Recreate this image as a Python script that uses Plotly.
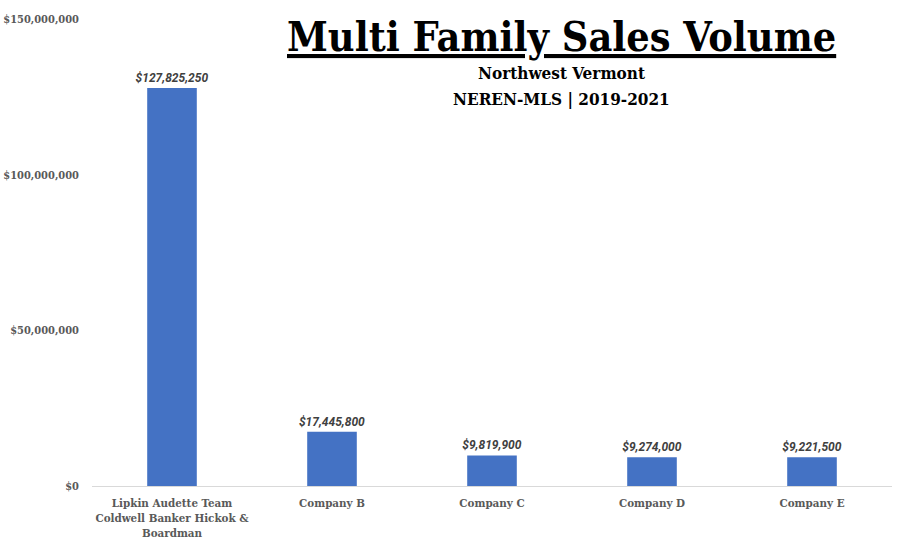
import plotly.graph_objects as go

categories = ["Lipkin Audette Team<br>Coldwell Banker Hickok &<br>Boardman",
              "Company B", "Company C", "Company D", "Company E"]
values = [127825250, 17445800, 9819900, 9274000, 9221500]
tick_vals = [0, 50000000, 100000000, 150000000]
tick_text = ["$0", "$50,000,000", "$100,000,000", "$150,000,000"]

SLAB = "DejaVu Serif Condensed, DejaVu Serif, serif"

fig = go.Figure(go.Bar(
    x=categories, y=values,
    marker=dict(color="#4472C4", line=dict(width=0)),
    width=0.31,
    text=["<b><i>$" + f"{v:,}" + "</i></b>" for v in values],
    textposition="outside",
    constraintext="none",
    textfont=dict(family="Roboto, sans-serif", size=12, color="#404040"),
    cliponaxis=False,
))

fig.update_layout(
    width=902, height=550,
    margin=dict(l=92, r=10, t=19, b=64, autoexpand=False),
    plot_bgcolor="white", paper_bgcolor="white",
    showlegend=False,
    xaxis=dict(showline=True, linecolor="#D9D9D9", linewidth=1, ticks="",
               tickvals=categories, ticktext=["<b>" + c + "</b>" for c in categories],
               tickfont=dict(family=SLAB, size=11.5, color="#595959"),
               ticklabelstandoff=6,
               showgrid=False, automargin=False),
    yaxis=dict(range=[0, 150000000], tickvals=tick_vals,
               ticktext=["<b>" + t + "</b>" for t in tick_text],
               showgrid=False, zeroline=False, showline=False, ticks="",
               tickfont=dict(family=SLAB, size=11, color="#595959"),
               ticklabelstandoff=12, automargin=False),
    annotations=[
        dict(text="<b><u>Multi Family Sales Volume</u></b>", xref="paper", yref="paper",
             x=0.587, y=1.017, xanchor="center", yanchor="top", showarrow=False,
             font=dict(family=SLAB, size=41, color="black")),
        dict(text="<b>Northwest Vermont</b>", xref="paper", yref="paper",
             x=0.587, y=0.884, xanchor="center", yanchor="middle", showarrow=False,
             font=dict(family=SLAB, size=17, color="black")),
        dict(text="<b>NEREN-MLS | 2019-2021</b>", xref="paper", yref="paper",
             x=0.587, y=0.829, xanchor="center", yanchor="middle", showarrow=False,
             font=dict(family=SLAB, size=17, color="black")),
    ],
)

fig.write_html("out.html")
